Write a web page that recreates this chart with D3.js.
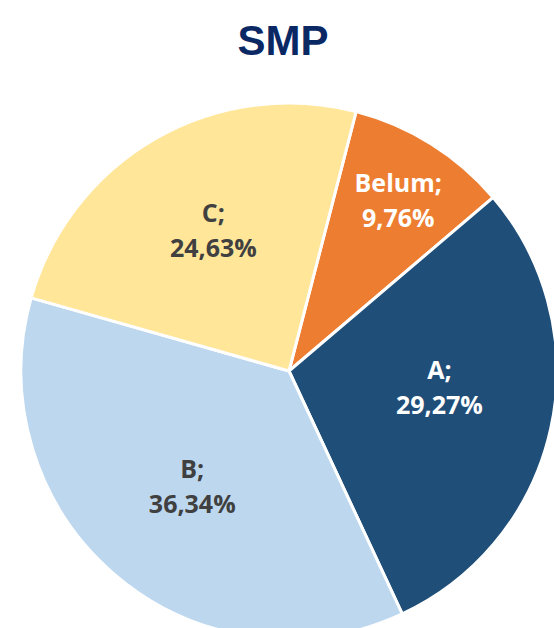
<!DOCTYPE html>
<html>
<head>
<meta charset="utf-8">
<script src="https://cdn.jsdelivr.net/npm/d3@7"></script>
<style>
  html, body { margin: 0; padding: 0; background: #fff; overflow: hidden; }
</style>
</head>
<body>
<div id="chart"></div>
<script>

// data
var categories = ['Belum', 'A', 'B', 'C'];
var values = [9.76, 29.27, 36.34, 24.63];
var labels = ['9,76%', '29,27%', '36,34%', '24,63%'];
var title_text = 'SMP';

// style
var w = 554, h = 628;
var cx = 289, cy = 371, radius = 268;
var colors = {'Belum': '#ed7d31', 'A': '#1f4e79', 'B': '#bdd7ee', 'C': '#ffe699'};
var text_colors = {'Belum': '#ffffff', 'A': '#ffffff', 'B': '#404040', 'C': '#404040'};
var label_radius = 0.62;
// excel "best fit" label nudges
var label_nudge = {'Belum': [21, -30], 'A': [-12, -19], 'B': [11, -11], 'C': [7, 3]};
var start_angle = 14.5 * Math.PI / 180;

var svg = d3.select('#chart').append('svg').attr('width', w).attr('height', h);

svg.append('text')
   .attr('x', 283)
   .attr('y', 55)
   .attr('text-anchor', 'middle')
   .style('font-family', '"Liberation Sans", Arial, sans-serif')
   .style('font-weight', 'bold')
   .style('font-size', '42px')
   .style('fill', '#0a2864')
   .text(title_text);

var pie = d3.pie().sort(null).value(d => d.value)
            .startAngle(start_angle).endAngle(start_angle + 2 * Math.PI);

var data = categories.map((c, i) => ({name: c, value: values[i], label: labels[i]}));
var arcs = pie(data);

var arc = d3.arc().innerRadius(0).outerRadius(radius);
var label_arc = d3.arc().innerRadius(radius * label_radius).outerRadius(radius * label_radius);

var g = svg.append('g').attr('transform', `translate(${cx},${cy})`);

g.selectAll('.slice').data(arcs).enter()
 .append('path')
 .attr('class', 'slice')
 .attr('d', arc)
 .style('fill', d => colors[d.data.name])
 .style('stroke', '#fff')
 .style('stroke-width', 3)
 .style('stroke-linejoin', 'round');

var lbl = g.selectAll('.lbl').data(arcs).enter()
 .append('text')
 .attr('class', 'lbl')
 .attr('transform', d => {
    var c = label_arc.centroid(d);
    var n = label_nudge[d.data.name];
    return `translate(${c[0] + n[0]},${c[1] + n[1]})`;
 })
 .attr('text-anchor', 'middle')
 .style('font-family', '"Open Sans", sans-serif')
 .style('font-weight', 'bold')
 .style('font-size', '25px')
 .style('fill', d => text_colors[d.data.name]);

lbl.append('tspan').attr('x', 0).attr('y', -8).text(d => d.data.name + ';');
lbl.append('tspan').attr('x', 0).attr('y', 27).text(d => d.data.label);

</script>
</body>
</html>
